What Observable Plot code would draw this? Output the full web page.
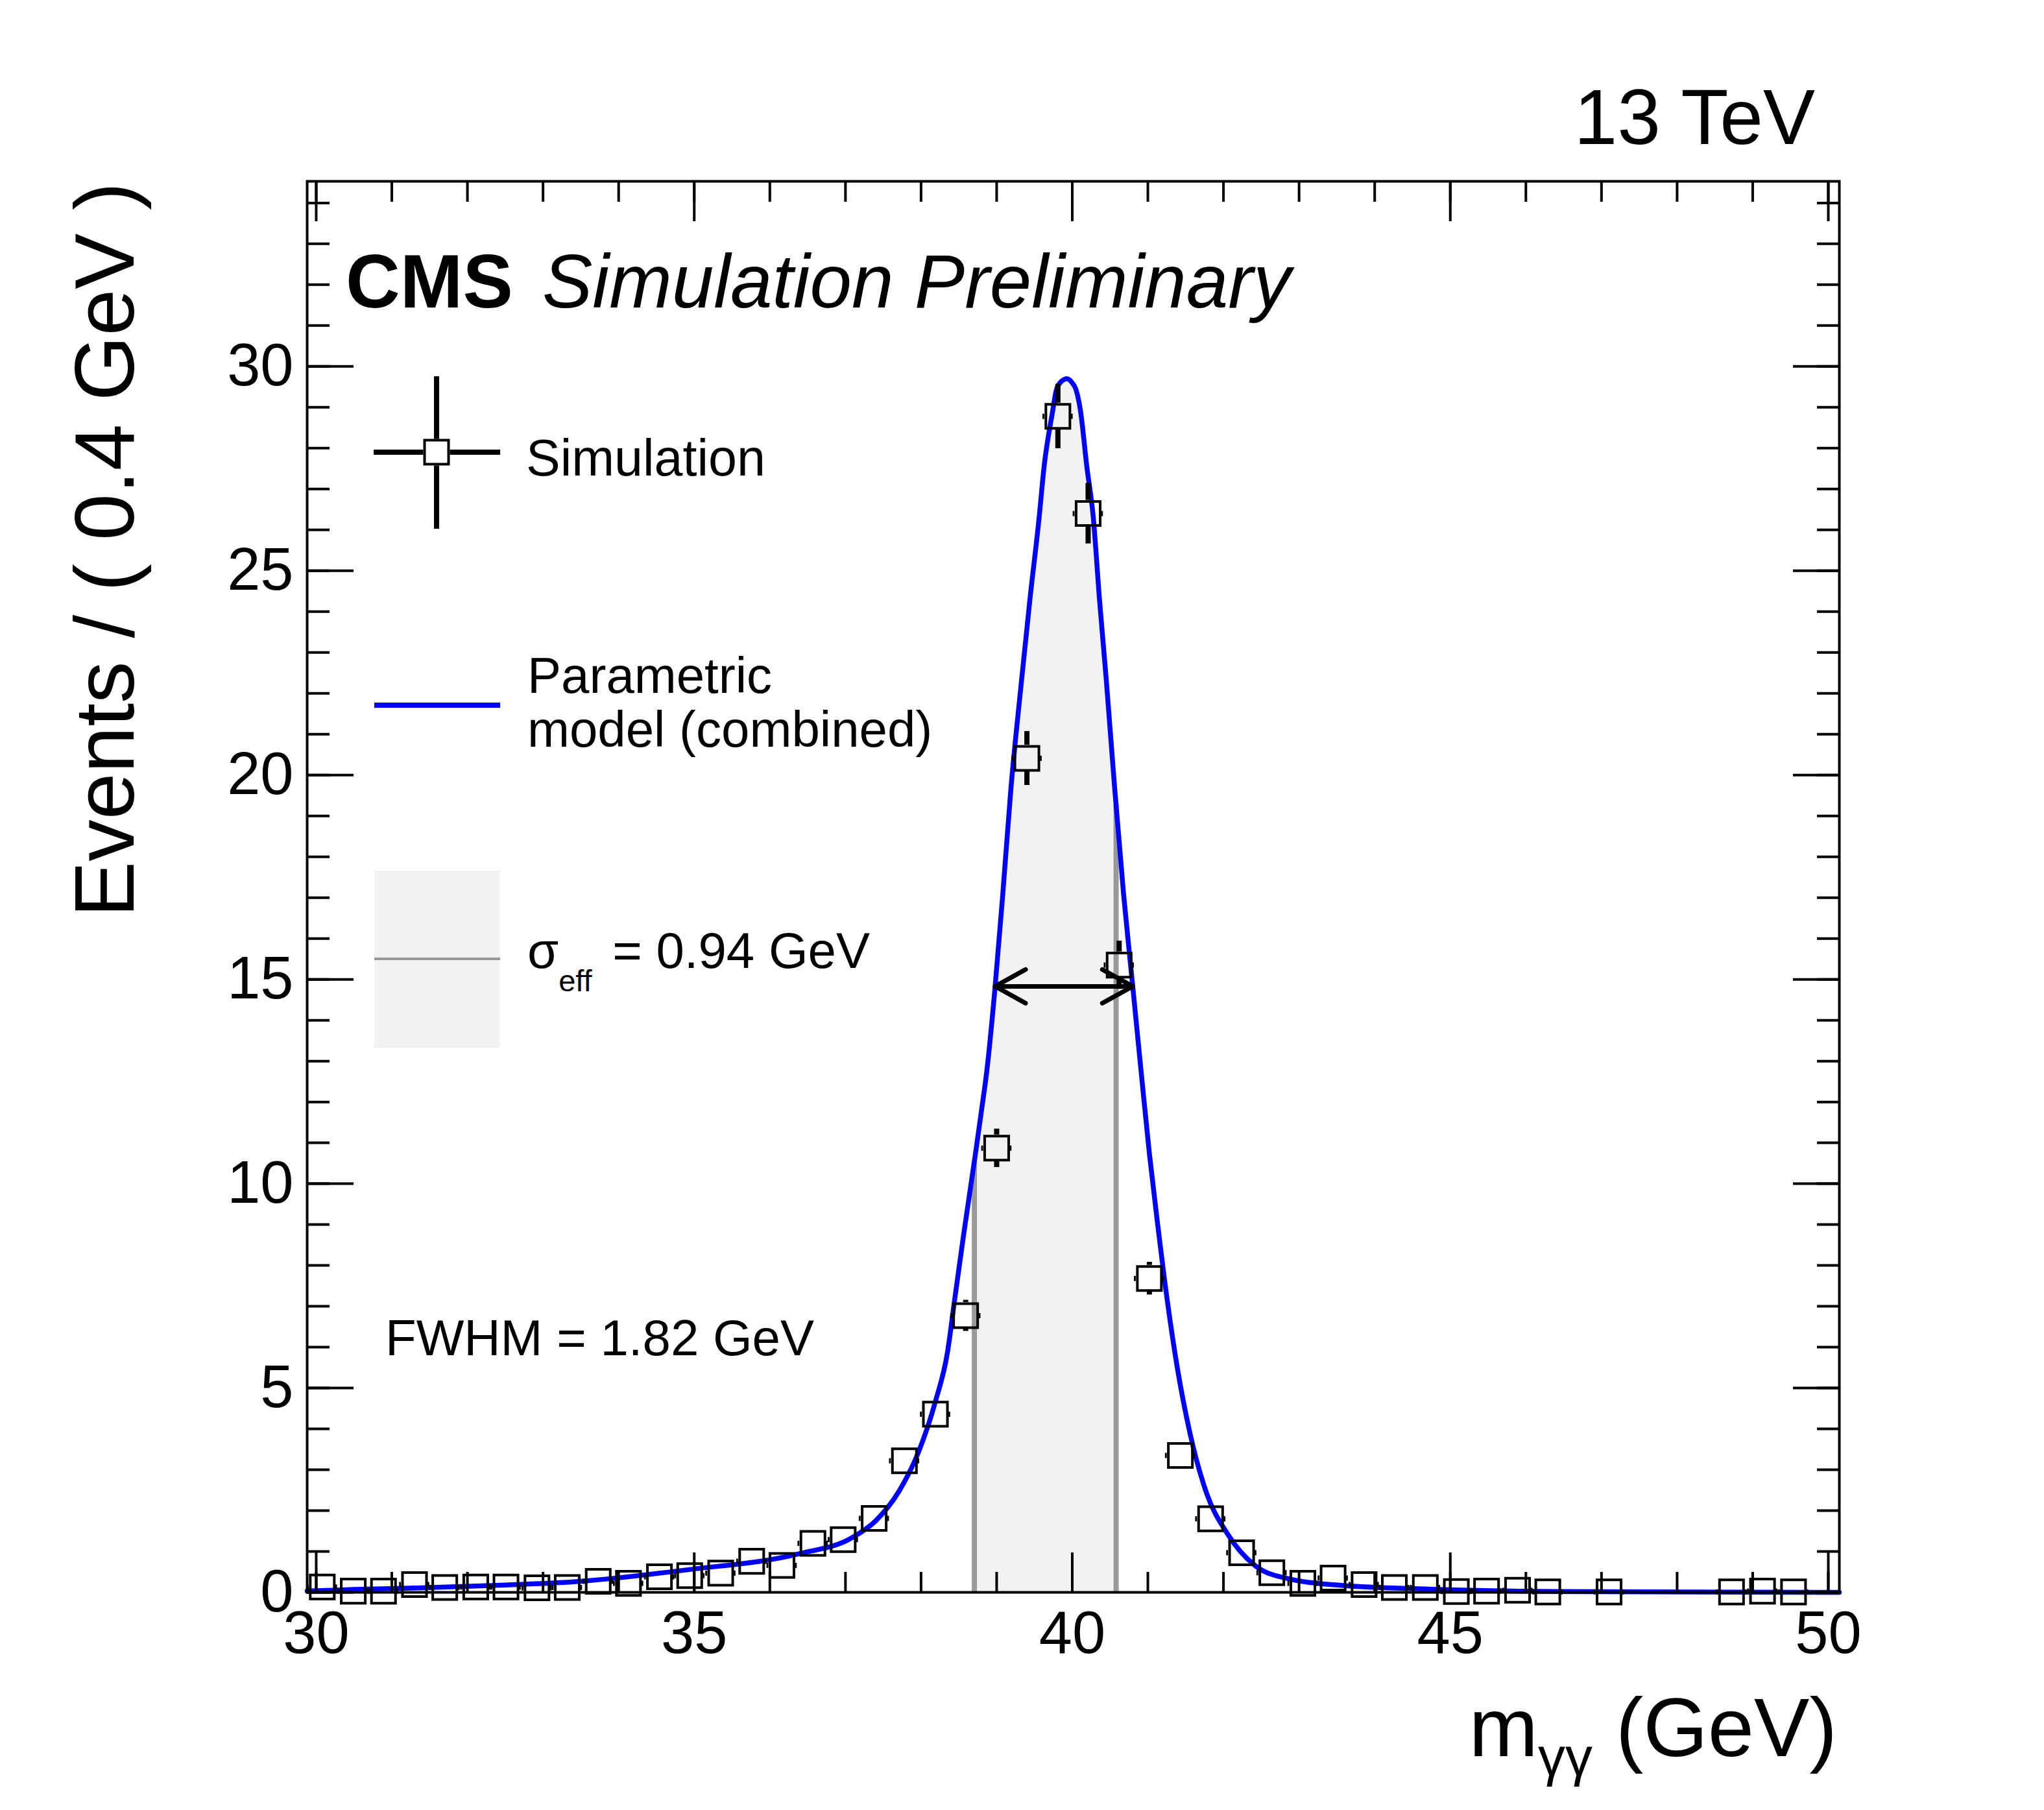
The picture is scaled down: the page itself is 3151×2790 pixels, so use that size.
<!DOCTYPE html>
<html>
<head>
<meta charset="utf-8">
<script src="https://cdn.jsdelivr.net/npm/d3@7"></script>
<script src="https://cdn.jsdelivr.net/npm/@observablehq/plot@0.6"></script>
<style>
  html, body { margin: 0; padding: 0; background: #ffffff; }
  svg { display: block; }
</style>
</head>
<body>
<div id="chart"></div>
<script>
// ---------------- data ----------------
// Bin centres of the simulated events (GeV, on the drawn axis) and their contents
const massBins = [30.08, 30.49, 30.89, 31.30, 31.70, 32.11, 32.51, 32.92, 33.32, 33.73,
                  34.13, 34.54, 34.94, 35.35, 35.76, 36.16, 36.57, 36.97, 37.38, 37.78,
                  38.19, 38.59, 39.00, 39.40, 39.81, 40.21, 40.62, 41.02, 41.43, 41.83,
                  42.24, 42.64, 43.05, 43.45, 43.86, 44.26, 44.67, 45.08, 45.48, 45.89,
                  46.29, 46.70, 47.10, 47.51, 47.91, 48.32, 48.72, 49.13, 49.54, 49.94];
const events   = [0.13, 0.03, 0.03, 0.19, 0.12, 0.13, 0.13, 0.11, 0.12, 0.27,
                  0.22, 0.38, 0.41, 0.47, 0.76, 0.66, 1.20, 1.29, 1.81, 3.22,
                  4.36, 6.77, 10.87, 20.41, 28.78, 26.40, 15.35, 7.68, 3.35, 1.80,
                  0.97, 0.48, 0.22, 0.35, 0.19, 0.12, 0.12, 0.02, 0.03, 0.05,
                  0.01, null, 0.01, null, null, null, 0.01, 0.03, 0.01, null];
const errors   = [0.05, 0.03, 0.03, 0.07, 0.05, 0.05, 0.05, 0.05, 0.05, 0.08,
                  0.07, 0.09, 0.10, 0.10, 0.13, 0.12, 0.16, 0.17, 0.20, 0.27,
                  0.31, 0.38, 0.47, 0.66, 0.79, 0.74, 0.59, 0.40, 0.27, 0.20,
                  0.15, 0.10, 0.07, 0.09, 0.07, 0.05, 0.05, 0.02, 0.03, 0.03,
                  0.02, null, 0.02, null, null, null, 0.02, 0.03, 0.02, null];
const binHalfWidth = 0.2;

// Parametric model (combined)
const curveMass   = [29.88, 30.5, 31.4, 32.5, 33.5, 34.9, 36.4, 37.08, 37.40, 37.71,
                     37.97, 38.19, 38.35, 38.44, 38.56, 38.72, 38.80, 38.87, 38.98, 39.08,
                     39.19, 39.33, 39.44, 39.56, 39.63, 39.74, 39.79, 39.86, 39.93, 39.99, 40.05, 40.11,
                     40.19, 40.28, 40.36, 40.45, 40.56, 40.68, 40.80, 40.91, 41.02, 41.13,
                     41.26, 41.39, 41.56, 41.78, 42.05, 42.42, 42.82, 43.56, 44.71, 46.44, 50.146];
const curveEvents = [0.03, 0.07, 0.11, 0.18, 0.27, 0.55, 0.95, 1.33, 1.75, 2.48,
                     3.45, 4.67, 5.88, 7.10, 8.71, 10.74, 11.8, 12.76, 14.83, 17.06,
                     19.7, 22.33, 24.3, 26.27, 27.59, 28.90, 29.43, 29.64, 29.70, 29.62, 29.43, 28.90,
                     27.59, 26.27, 24.3, 22.33, 19.7, 17.06, 14.83, 12.76, 10.74, 9.0,
                     7.10, 5.49, 3.87, 2.41, 1.44, 0.65, 0.35, 0.17, 0.08, 0.02, 0.0];

// sigma_eff interval (shaded) and FWHM arrow
const sigmaEffEdges      = [38.705, 40.58];
const sigmaEffEdgeEvents = [10.55, 19.3];
const fwhmEdges = [38.98, 40.80];
const halfMax   = 14.83;

// axes
const xDomain = [29.88, 50.146];
const yDomain = [0, 34.53];
const xMajorTicks = [30, 35, 40, 45, 50];
const xMinorTicks = [30, 31, 32, 33, 34, 35, 36, 37, 38, 39, 40, 41, 42, 43, 44, 45, 46, 47, 48, 49, 50];
const yMajorTicks = [0, 5, 10, 15, 20, 25, 30];
const yMinorTicks = [0, 1, 2, 3, 4, 5, 6, 7, 8, 9, 10, 11, 12, 13, 14, 15, 16, 17, 18, 19, 20,
                     21, 22, 23, 24, 25, 26, 27, 28, 29, 30, 31, 32, 33, 34];

// texts
const energyLabel = "13 TeV";
const cmsLabel = "CMS";
const extraLabel = "Simulation Preliminary";
const yTitle = "Events / ( 0.4 GeV )";
const xTitleMain = "m";
const xTitleSub = "γγ";
const xTitleUnit = " (GeV)";
const legendSim = "Simulation";
const legendModel = ["Parametric", "model (combined)"];
const legendSigma = ["σ", "eff", " = 0.94 GeV"];
const fwhmLabel = "FWHM = 1.82 GeV";

// ---------------- build tables ----------------
const points = massBins.map((m, i) => ({m, v: events[i], e: errors[i]})).filter(d => d.v != null);
const curve = curveMass.map((m, i) => ({m, v: curveEvents[i]}));
const band = [
  {m: sigmaEffEdges[0], v: sigmaEffEdgeEvents[0]},
  ...curve.filter(d => d.m > sigmaEffEdges[0] && d.m < sigmaEffEdges[1]),
  {m: sigmaEffEdges[1], v: sigmaEffEdgeEvents[1]}
];
const bandEdges = sigmaEffEdges.map((m, i) => ({m, v: sigmaEffEdgeEvents[i]}));
// ROOT hides the part of an error bar that falls inside the marker
const visibleBars = points.filter(d => d.e > 0.33);

const FONT = "'Liberation Sans', Arial, Helvetica, sans-serif";
const SQ = 20.5; // half of the marker's outer side (px)

// decorations: titles, labels and legend (drawn as SVG text / shapes)
function decorations() {
  const g = d3.create("svg:g").attr("font-family", FONT).attr("fill", "black")
    .attr("text-anchor", "start");
  g.append("text").attr("x", 2798).attr("y", 222).attr("font-size", 120)
    .attr("text-anchor", "end").text(energyLabel);
  g.append("text").attr("x", 533).attr("y", 474).attr("font-size", 116)
    .attr("font-weight", "bold").text(cmsLabel);
  g.append("text").attr("x", 836).attr("y", 474).attr("font-size", 116)
    .attr("font-style", "italic").text(extraLabel);
  // y title
  g.append("text").attr("transform", "translate(206,281) rotate(-90)")
    .attr("font-size", 129).attr("text-anchor", "end").text(yTitle);
  // x title
  const xt = g.append("text").attr("x", 2832).attr("y", 2707).attr("font-size", 128)
    .attr("text-anchor", "end");
  xt.append("tspan").text(xTitleMain);
  xt.append("tspan").attr("dy", 30).attr("font-size", 84).text(xTitleSub);
  xt.append("tspan").attr("dy", -30).text(xTitleUnit);

  // legend: Simulation
  const cx = 673, cy = 697;
  const bar = g.append("g").attr("stroke", "black").attr("stroke-width", 8).attr("fill", "none");
  bar.append("line").attr("x1", cx).attr("x2", cx).attr("y1", 580).attr("y2", cy - SQ);
  bar.append("line").attr("x1", cx).attr("x2", cx).attr("y1", cy + SQ).attr("y2", 815);
  bar.append("line").attr("x1", 576).attr("x2", cx - SQ).attr("y1", cy).attr("y2", cy);
  bar.append("line").attr("x1", cx + SQ).attr("x2", 771).attr("y1", cy).attr("y2", cy);
  g.append("rect").attr("x", cx - 18.5).attr("y", cy - 18.5).attr("width", 37).attr("height", 37)
    .attr("fill", "none").attr("stroke", "black").attr("stroke-width", 4);
  g.append("text").attr("x", 811).attr("y", 733).attr("font-size", 79).text(legendSim);

  // legend: model
  g.append("line").attr("x1", 577).attr("x2", 771).attr("y1", 1087).attr("y2", 1087)
    .attr("stroke", "#0000ff").attr("stroke-width", 8);
  g.append("text").attr("x", 813).attr("y", 1068).attr("font-size", 78).text(legendModel[0]);
  g.append("text").attr("x", 813).attr("y", 1151).attr("font-size", 78).text(legendModel[1]);

  // legend: sigma_eff
  g.append("rect").attr("x", 577).attr("y", 1342).attr("width", 194).attr("height", 273)
    .attr("fill", "#f2f2f2");
  g.append("line").attr("x1", 577).attr("x2", 771).attr("y1", 1478).attr("y2", 1478)
    .attr("stroke", "#999999").attr("stroke-width", 4);
  const st = g.append("text").attr("x", 813).attr("y", 1492).attr("font-size", 78);
  st.append("tspan").text(legendSigma[0]);
  st.append("tspan").attr("dy", 36).attr("font-size", 47).text(legendSigma[1]);
  st.append("tspan").attr("dy", -36).attr("dx", 10).text(legendSigma[2]);

  g.append("text").attr("x", 594).attr("y", 2089).attr("font-size", 78).text(fwhmLabel);
  return g.node();
}

const TW = 4; // tick / frame width

const chart = Plot.plot({
  width: 3151,
  height: 2790,
  marginLeft: 473,
  marginRight: 316,
  marginTop: 279,
  marginBottom: 336,
  style: {fontFamily: FONT, background: "#ffffff", color: "black", overflow: "visible"},
  x: {domain: xDomain, label: null},
  y: {domain: yDomain, label: null},
  marks: [
    // sigma_eff band
    Plot.areaY(band, {x: "m", y: "v", fill: "#f2f2f2", curve: "monotone-x"}),
    Plot.ruleX(bandEdges, {x: "m", y1: 0, y2: "v", stroke: "#999999", strokeWidth: 8}),
    // parametric model
    Plot.line(curve, {x: "m", y: "v", stroke: "#0000ff", strokeWidth: 7.5, curve: "monotone-x"}),
    // error bars (outside the marker)
    Plot.ruleX(visibleBars, {x: "m", y1: d => d.v + d.e, y2: "v", insetBottom: SQ, stroke: "black", strokeWidth: 8}),
    Plot.ruleX(visibleBars, {x: "m", y1: "v", y2: d => d.v - d.e, insetTop: SQ, stroke: "black", strokeWidth: 8}),
    Plot.ruleY(points, {y: "v", x1: d => d.m - binHalfWidth, x2: "m", insetRight: SQ, stroke: "black", strokeWidth: 8}),
    Plot.ruleY(points, {y: "v", x1: "m", x2: d => d.m + binHalfWidth, insetLeft: SQ, stroke: "black", strokeWidth: 8}),
    // markers
    Plot.dot(points, {x: "m", y: "v", symbol: "square", r: 20.9, stroke: "black", strokeWidth: 4, fill: "none"}),
    // FWHM double arrow
    Plot.arrow([0], {x1: fwhmEdges[0], x2: fwhmEdges[1], y1: halfMax, y2: halfMax, stroke: "black",
                     strokeWidth: 7, headLength: 11.5, headAngle: 58}),
    Plot.arrow([0], {x1: fwhmEdges[1], x2: fwhmEdges[0], y1: halfMax, y2: halfMax, stroke: "black",
                     strokeWidth: 7, headLength: 11.5, headAngle: 58}),
    // frame
    Plot.frame({stroke: "black", strokeWidth: TW}),
    // ticks (inward, all four sides)
    Plot.axisX(xMajorTicks, {anchor: "bottom", tickSize: -61, strokeWidth: TW, fill: "none"}),
    Plot.axisX(xMinorTicks, {anchor: "bottom", tickSize: -31, strokeWidth: TW, fill: "none"}),
    Plot.axisX(xMajorTicks, {anchor: "top", tickSize: -61, strokeWidth: TW, fill: "none"}),
    Plot.axisX(xMinorTicks, {anchor: "top", tickSize: -31, strokeWidth: TW, fill: "none"}),
    Plot.axisY(yMajorTicks, {anchor: "left", tickSize: -72, strokeWidth: TW, fill: "none"}),
    Plot.axisY(yMinorTicks, {anchor: "left", tickSize: -35, strokeWidth: TW, fill: "none"}),
    Plot.axisY(yMajorTicks, {anchor: "right", tickSize: -72, strokeWidth: TW, fill: "none"}),
    Plot.axisY(yMinorTicks, {anchor: "right", tickSize: -35, strokeWidth: TW, fill: "none"}),
    // tick labels
    Plot.axisX(xMajorTicks, {anchor: "bottom", tickSize: 0, tickPadding: 28, fontSize: 92, label: null, tickFormat: d => String(d)}),
    Plot.axisY(yMajorTicks, {anchor: "left", tickSize: 0, tickPadding: 21, fontSize: 92, label: null, tickFormat: d => String(d)}),
    decorations
  ]
});

document.getElementById("chart").appendChild(chart);
</script>
</body>
</html>
